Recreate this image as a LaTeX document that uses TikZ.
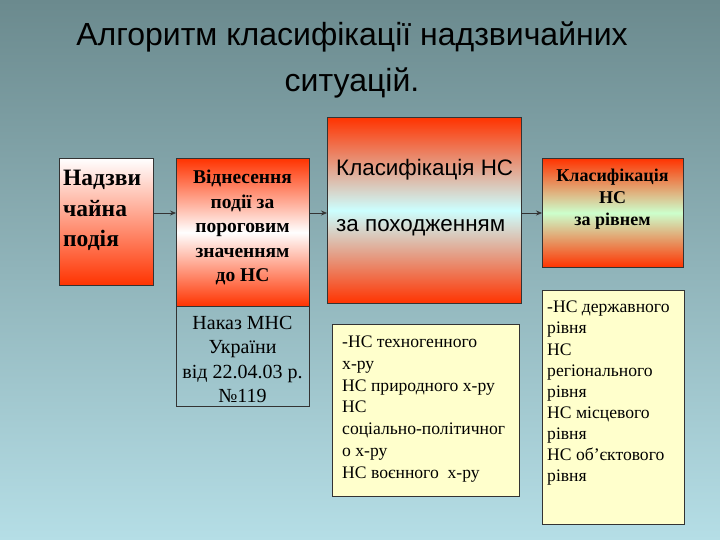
\documentclass[tikz,border=0pt]{standalone}
\usepackage{fontspec}
\setmainfont{Liberation Serif}
\newfontfamily\headfont{Liberation Sans}
\usetikzlibrary{arrows.meta, positioning}
\definecolor{bgtop}{HTML}{6B8A8E}
\definecolor{bgbottom}{HTML}{B5DEE6}
\definecolor{hotred}{HTML}{FF3300}
\definecolor{palecyan}{HTML}{CCFFFF}
\definecolor{palegreen}{HTML}{CCFFCC}
\definecolor{paleyellow}{HTML}{FFFFCC}
\definecolor{linegray}{HTML}{333333}

\begin{document}
\begin{tikzpicture}[x=1pt, y=-1pt,
    box/.style={draw=black!80, line width=0.7pt, anchor=north west, inner sep=0pt},
    note/.style={box, fill=paleyellow},
    boxtext/.style={inner sep=0pt, text=black},
    flow/.style={draw=linegray, line width=0.7pt, -{Stealth[length=6pt, width=5pt]}}]
  % background
  \shade[top color=bgtop, bottom color=bgbottom] (0,0) rectangle (720,540);
  \useasboundingbox (0,0) rectangle (720,540);
  \node[font=\headfont\fontsize{32}{46}\selectfont, align=center, anchor=north, inner sep=0pt]
    (title) at (352,22) {Алгоритм класифікації надзвичайних\\ситуацій.};
  % top row
  \node[box, minimum width=94pt, minimum height=127pt, top color=white, bottom color=hotred]
    (event) at (59,158) {};
  \node[boxtext, anchor=north west, align=left, font=\fontsize{23.5}{30.5}\selectfont\bfseries]
    (event-txt) at (63,170) {Надзви\\чайна\\подія};
  \node[box, minimum width=133pt, minimum height=148pt, top color=hotred, bottom color=hotred, middle color=white]
    (assign) at (176,158) {};
  \node[boxtext, anchor=north, align=center, font=\fontsize{19.5}{24.5}\selectfont\bfseries]
    (assign-txt) at (242.5,170) {Віднесення\\події за\\пороговим\\значенням\\до НС};
  \node[box, minimum width=133pt, minimum height=100pt]
    (order) at (176,306) {};
  \node[boxtext, anchor=north, align=center, font=\fontsize{20}{24.5}\selectfont]
    (order-txt) at (242.5,316) {Наказ МНС\\України\\від 22.04.03 р.\\№119};
  \node[box, minimum width=194pt, minimum height=186pt, top color=hotred, bottom color=hotred, middle color=palecyan]
    (origin) at (327,117) {};
  \node[boxtext, anchor=north west, align=left, font=\headfont\fontsize{22.4}{28}\selectfont]
    (origin-txt) at (336,159) {Класифікація НС\\[28pt]за походженням};
  \node[box, minimum width=141pt, minimum height=109pt, top color=hotred, bottom color=hotred, middle color=palegreen]
    (level) at (542,158) {};
  \node[boxtext, anchor=north, align=center, font=\fontsize{18}{22}\selectfont\bfseries]
    (level-txt) at (612.5,169) {Класифікація\\НС\\за рівнем};
  % lists
  \node[note, minimum width=187pt, minimum height=172pt] (origin-list) at (332,324) {};
  \node[boxtext, anchor=north west, align=left, font=\fontsize{17.6}{21.7}\selectfont]
    (origin-list-txt) at (342,336) {-НС техногенного\\х-ру\\НС природного х-ру\\НС\\соціально-політичног\\о х-ру\\НС воєнного~~х-ру};
  \node[note, minimum width=142pt, minimum height=234pt] (level-list) at (542,290) {};
  \node[boxtext, anchor=north west, align=left, font=\fontsize{17.6}{21.1}\selectfont]
    (level-list-txt) at (547,301) {-НС державного\\рівня\\НС\\регіонального\\рівня\\НС місцевого\\рівня\\НС об’єктового\\рівня};
  % arrows
  \coordinate (axis) at (0,213);
  \draw[flow] (event.east |- axis) -- (assign.west |- axis);
  \draw[flow] (assign.east |- axis) -- (origin.west |- axis);
  \draw[flow] (origin.east |- axis) -- (level.west |- axis);
\end{tikzpicture}
\end{document}
